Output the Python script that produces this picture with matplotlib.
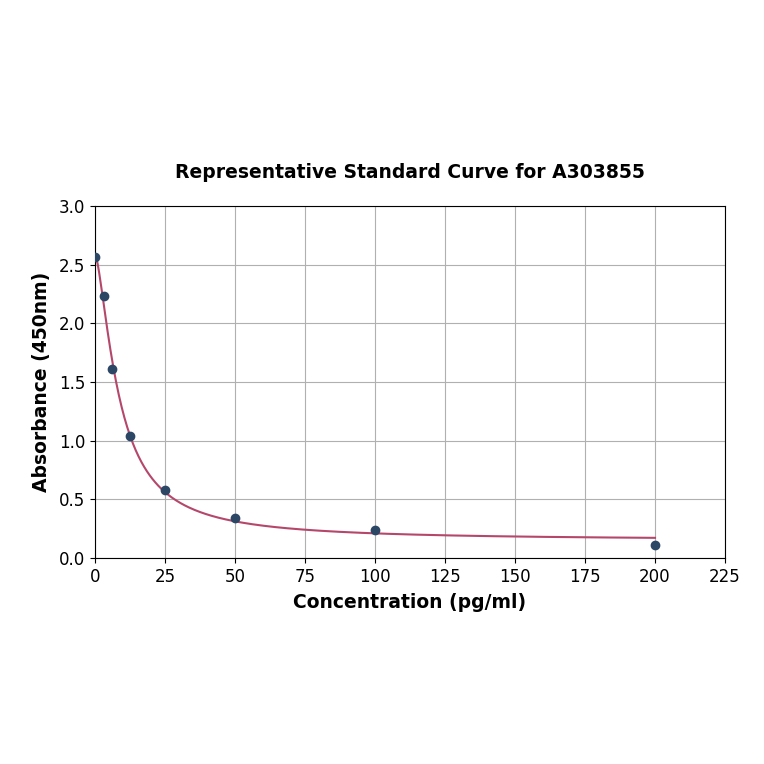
import numpy as np
import matplotlib
matplotlib.use("Agg")
import matplotlib.pyplot as plt

conc = [0, 3.125, 6.25, 12.5, 25, 50, 100, 200]
absorb = [2.566, 2.233, 1.611, 1.04, 0.58, 0.345, 0.239, 0.111]
xticks = [0, 25, 50, 75, 100, 125, 150, 175, 200, 225]
yticks = [0.0, 0.5, 1.0, 1.5, 2.0, 2.5, 3.0]

x = np.array(conc, float)
y = np.array(absorb, float)

def f4(p, xx):
    a, b, c, d = p
    return d + (a - d) / (1.0 + (np.maximum(xx, 0) / c) ** b)

def fit(p):
    p = np.array(p, float)
    lam = 1e-3
    for _ in range(500):
        r = y - f4(p, x)
        J = np.zeros((len(x), 4))
        for i in range(4):
            dp = np.zeros(4); h = 1e-6 * max(abs(p[i]), 1e-3); dp[i] = h
            J[:, i] = (f4(p + dp, x) - f4(p - dp, x)) / (2 * h)
        A = J.T @ J
        g = J.T @ r
        step = np.linalg.solve(A + lam * np.diag(np.diag(A) + 1e-12), g)
        pn = p + step
        if pn[2] > 0 and np.sum((y - f4(pn, x)) ** 2) < np.sum(r ** 2):
            p = pn; lam *= 0.5
        else:
            lam *= 4
    return p

params = fit([2.6, 1.2, 10.0, 0.1])
xs = np.linspace(0, 200, 400)
ys = f4(params, xs)

fig = plt.figure(figsize=(7.64, 7.64), dpi=100)
ax = fig.add_axes([0.1243, 0.2696, 0.8247, 0.4607])
ax.plot(xs, ys, color="#b5476b", lw=1.5, zorder=2)
ax.scatter(x, y, s=36, color="#2c4766", zorder=3)
ax.set_xlim(0, 225)
ax.set_ylim(0, 3.0)
ax.set_xticks(xticks)
ax.set_yticks(yticks)
ax.set_yticklabels([f"{v:.1f}" for v in yticks])
ax.grid(True, color="#b0b0b0", lw=0.8)
ax.set_axisbelow(True)
ax.tick_params(labelsize=12)
ax.set_title("Representative Standard Curve for A303855", fontsize=13.5, fontweight="bold", pad=20)
ax.set_xlabel("Concentration (pg/ml)", fontsize=13.5, fontweight="bold", labelpad=5)
ax.set_ylabel("Absorbance (450nm)", fontsize=13.5, fontweight="bold", labelpad=6)
fig.savefig("out.png", dpi=100)
